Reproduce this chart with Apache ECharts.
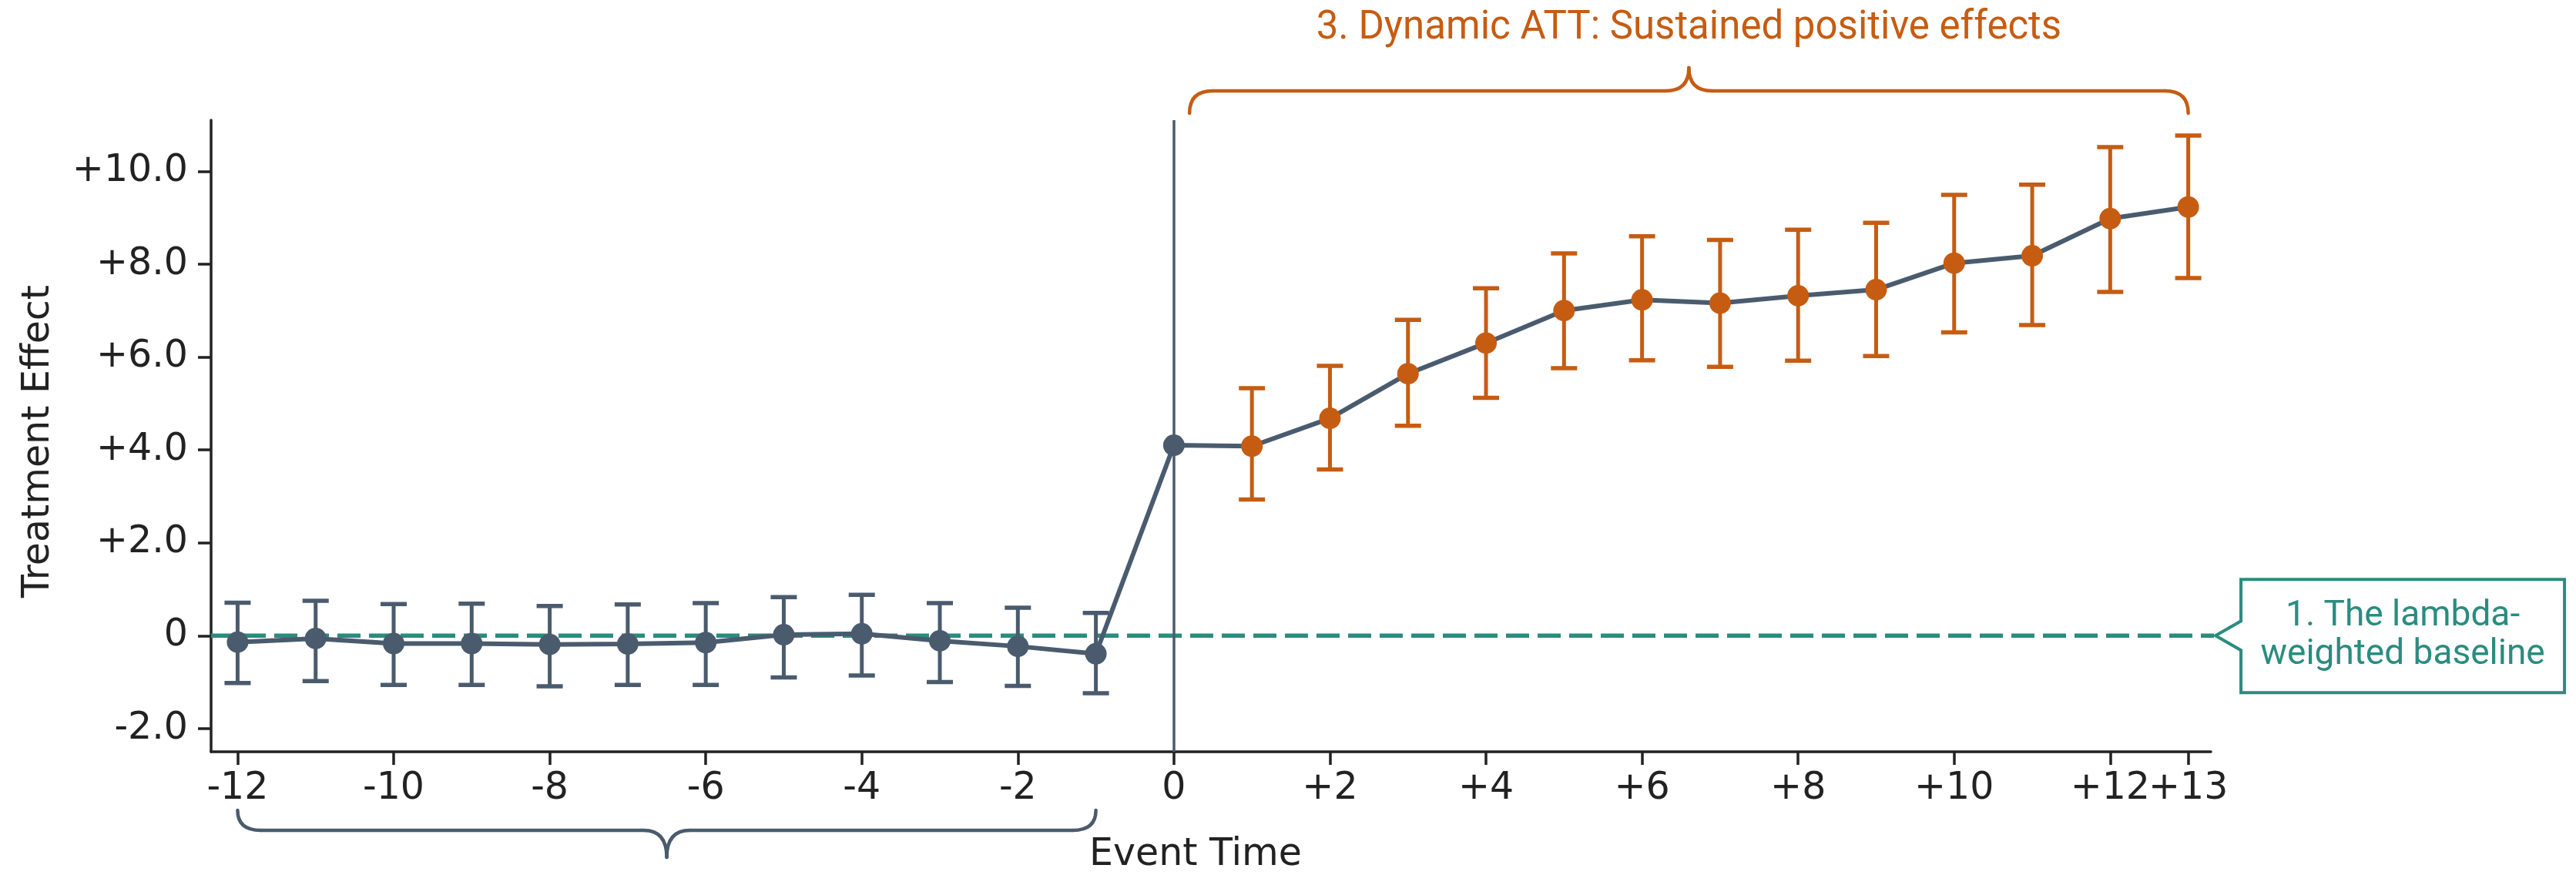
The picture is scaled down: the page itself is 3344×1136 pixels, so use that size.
<!DOCTYPE html>
<html>
<head>
<meta charset="utf-8">
<script src="https://cdn.jsdelivr.net/npm/echarts@6/dist/echarts.min.js"></script>
<style>
html,body{margin:0;padding:0;background:#ffffff;}
#chart{width:3344px;height:1136px;}
</style>
</head>
<body>
<div id="chart"></div>
<script>
// ---------------- data ----------------
const eventTime = [-12,-11,-10,-9,-8,-7,-6,-5,-4,-3,-2,-1,0,1,2,3,4,5,6,7,8,9,10,11,12,13];
const effect    = [-0.14,-0.06,-0.17,-0.17,-0.19,-0.18,-0.15,0.02,0.04,-0.11,-0.23,-0.39,4.10,4.08,4.68,5.64,6.30,7.00,7.23,7.16,7.32,7.45,8.02,8.18,8.98,9.23];
const ciLow     = [-1.02,-0.98,-1.06,-1.06,-1.09,-1.06,-1.06,-0.90,-0.86,-1.00,-1.08,-1.24,null,2.93,3.58,4.52,5.12,5.76,5.93,5.79,5.92,6.02,6.53,6.69,7.40,7.70];
const ciHigh    = [0.71,0.75,0.68,0.69,0.64,0.67,0.70,0.83,0.88,0.70,0.60,0.49,null,5.33,5.81,6.80,7.48,8.23,8.60,8.52,8.74,8.89,9.49,9.71,10.52,10.77];

const xTickValues = [-12,-10,-8,-6,-4,-2,0,2,4,6,8,10,12,13];
const xTickLabels = ['-12','-10','-8','-6','-4','-2','0','+2','+4','+6','+8','+10','+12','+13'];
const yTickValues = [-2,0,2,4,6,8,10];
const yTickLabels = ['-2.0','0','+2.0','+4.0','+6.0','+8.0','+10.0'];

const xTitle = 'Event Time';
const yTitle = 'Treatment Effect';
const topBraceText = '3. Dynamic ATT: Sustained positive effects';
const calloutText = '1. The lambda-\nweighted baseline';

// annotation anchors (in data units)
const baselineValue = 0;
const topBraceRange = [0.2, 13];
const bottomBraceRange = [-12, -1];
const baselineEnd = 13.35;

// ---------------- style ----------------
const SLATE = '#4A5B6E';
const ORANGE = '#C65C12';
const TEAL = '#2A8C7F';
const AXIS = '#222222';
const TICKFONT = '"DejaVu Sans"';
const ANNFONT = 'Roboto';

const X_MIN = -12.34, X_MAX = 13.29;
const Y_MIN = -2.5, Y_MAX = 11.1;

const chart = echarts.init(document.getElementById('chart'), null, {renderer: 'canvas'});

const pointData = eventTime.map((t, i) => ({
  value: [t, effect[i]],
  itemStyle: {color: t > 0 ? ORANGE : SLATE}
}));
const errData = [];
eventTime.forEach((t, i) => {
  if (ciLow[i] !== null && ciHigh[i] !== null) errData.push([t, ciLow[i], ciHigh[i]]);
});

function xFmt(v) {
  const k = xTickValues.indexOf(Math.round(v));
  return k >= 0 ? xTickLabels[k] : '';
}
const xLabelStyle = {
  show: true, margin: 24,
  showMinLabel: true, showMaxLabel: true, hideOverlap: false,
  color: AXIS, fontFamily: TICKFONT, fontSize: 49,
  formatter: xFmt
};

const option = {
  animation: false,
  backgroundColor: '#ffffff',
  grid: {left: 274, right: 474, top: 156, bottom: 160, containLabel: false},
  xAxis: [
    {
      type: 'value',
      min: X_MIN, max: X_MAX,
      axisLine: {show: true, onZero: false, lineStyle: {color: AXIS, width: 3.5}},
      axisTick: {show: true, length: 17, lineStyle: {color: AXIS, width: 3.5}, customValues: xTickValues},
      axisLabel: Object.assign({customValues: xTickValues.slice(0, -1)}, xLabelStyle),
      splitLine: {show: false}
    },
    {
      // carries only the last tick label so that neighbouring labels are not auto-hidden
      type: 'value',
      position: 'bottom',
      min: X_MIN, max: X_MAX,
      axisLine: {show: false, onZero: false},
      axisTick: {show: false},
      axisLabel: Object.assign({customValues: xTickValues.slice(-1)}, xLabelStyle),
      splitLine: {show: false}
    }
  ],
  yAxis: {
    type: 'value',
    min: Y_MIN, max: Y_MAX,
    axisLine: {show: true, onZero: false, lineStyle: {color: AXIS, width: 3.5}},
    axisTick: {show: true, length: 17, lineStyle: {color: AXIS, width: 3.5}, customValues: yTickValues},
    axisLabel: {
      show: true, customValues: yTickValues, margin: 30,
      showMinLabel: true, showMaxLabel: true, hideOverlap: false,
      color: AXIS, fontFamily: TICKFONT, fontSize: 49,
      formatter: function (v) {
        const k = yTickValues.indexOf(Math.round(v));
        return k >= 0 ? yTickLabels[k] : '';
      }
    },
    splitLine: {show: false}
  },
  series: [
    {
      name: 'baseline',
      type: 'line',
      xAxisIndex: 0,
      z: 1,
      clip: false,
      silent: true,
      symbol: 'none',
      data: [[X_MIN, baselineValue], [baselineEnd, baselineValue]],
      lineStyle: {color: TEAL, width: 5.5, type: [30, 11]}
    },
    {
      name: 'ci',
      type: 'custom',
      xAxisIndex: 0,
      z: 2,
      silent: true,
      data: errData,
      encode: {x: 0, y: [1, 2]},
      renderItem: function (params, api) {
        const x = api.value(0), lo = api.value(1), hi = api.value(2);
        const top = api.coord([x, hi]);
        const bot = api.coord([x, lo]);
        const c = x > 0 ? ORANGE : SLATE;
        const hw = 17;
        return {
          type: 'group',
          children: [
            {type: 'line', shape: {x1: top[0], y1: top[1], x2: bot[0], y2: bot[1]}, style: {stroke: c, lineWidth: 5}},
            {type: 'line', shape: {x1: top[0] - hw, y1: top[1], x2: top[0] + hw, y2: top[1]}, style: {stroke: c, lineWidth: 5.5}},
            {type: 'line', shape: {x1: bot[0] - hw, y1: bot[1], x2: bot[0] + hw, y2: bot[1]}, style: {stroke: c, lineWidth: 5.5}}
          ]
        };
      }
    },
    {
      name: 'effect',
      type: 'line',
      xAxisIndex: 0,
      z: 3,
      silent: true,
      symbol: 'circle',
      symbolSize: 28,
      showAllSymbol: true,
      data: pointData,
      lineStyle: {color: SLATE, width: 6},
      markLine: {
        silent: true,
        symbol: ['none', 'none'],
        label: {show: false},
        lineStyle: {color: SLATE, width: 3.5, type: 'solid'},
        data: [{xAxis: 0}]
      }
    }
  ]
};
chart.setOption(option);

function px(x, y) { return chart.convertToPixel({xAxisIndex: 0, yAxisIndex: 0}, [x, y]); }

function brace(x1, x2, endY, lineY, tipY, r, color) {
  const xm = (x1 + x2) / 2;
  const st = {stroke: color, lineWidth: 4.5, fill: null, lineCap: 'round'};
  const mk = (shape, type) => ({type: type, silent: true, z: 10, shape: shape, style: st});
  return [
    mk({x1: x1, y1: endY, x2: x1 + r, y2: lineY, cpx1: x1, cpy1: lineY}, 'bezierCurve'),
    mk({x1: x1 + r, y1: lineY, x2: xm - r, y2: lineY}, 'line'),
    mk({x1: xm - r, y1: lineY, x2: xm, y2: tipY, cpx1: xm, cpy1: lineY}, 'bezierCurve'),
    mk({x1: xm, y1: tipY, x2: xm + r, y2: lineY, cpx1: xm, cpy1: lineY}, 'bezierCurve'),
    mk({x1: xm + r, y1: lineY, x2: x2 - r, y2: lineY}, 'line'),
    mk({x1: x2 - r, y1: lineY, x2: x2, y2: endY, cpx1: x2, cpy1: lineY}, 'bezierCurve')
  ];
}

const tb1 = px(topBraceRange[0], 0)[0];
const tb2 = px(topBraceRange[1], 0)[0];
const bb1 = px(bottomBraceRange[0], 0)[0];
const bb2 = px(bottomBraceRange[1], 0)[0];
const tip = px(baselineEnd, baselineValue);

const boxL = tip[0] + 33, boxR = boxL + 420, boxT = tip[1] - 73, boxB = tip[1] + 74;

const graphics = []
  .concat(brace(tb1, tb2, 147, 118, 88, 30, ORANGE))
  .concat(brace(bb1, bb2, 1052, 1078, 1113, 30, SLATE))
  .concat([
    {
      type: 'text', silent: true, z: 10,
      x: (tb1 + tb2) / 2, y: 37,
      style: {text: topBraceText, fill: ORANGE, font: '51px ' + ANNFONT, textAlign: 'center', textVerticalAlign: 'middle'}
    },
    {
      type: 'polygon', silent: true, z: 10,
      shape: {points: [[boxL, boxT], [boxR, boxT], [boxR, boxB], [boxL, boxB], [boxL, tip[1] + 19], [tip[0], tip[1]], [boxL, tip[1] - 19]]},
      style: {fill: '#ffffff', stroke: TEAL, lineWidth: 4}
    },
    {
      type: 'text', silent: true, z: 11,
      x: (boxL + boxR) / 2, y: tip[1],
      style: {text: calloutText, fill: TEAL, font: '46px ' + ANNFONT, lineHeight: 50, textAlign: 'center', textVerticalAlign: 'middle'}
    },
    {
      type: 'text', silent: true, z: 10,
      x: 1552, y: 1110,
      style: {text: xTitle, fill: AXIS, font: '49px ' + TICKFONT, textAlign: 'center', textVerticalAlign: 'middle'}
    },
    {
      type: 'text', silent: true, z: 10,
      x: 50, y: 573,
      rotation: Math.PI / 2,
      style: {text: yTitle, fill: AXIS, font: '49px ' + TICKFONT, textAlign: 'center', textVerticalAlign: 'middle'}
    }
  ]);

chart.setOption({graphic: graphics});
</script>
</body>
</html>
